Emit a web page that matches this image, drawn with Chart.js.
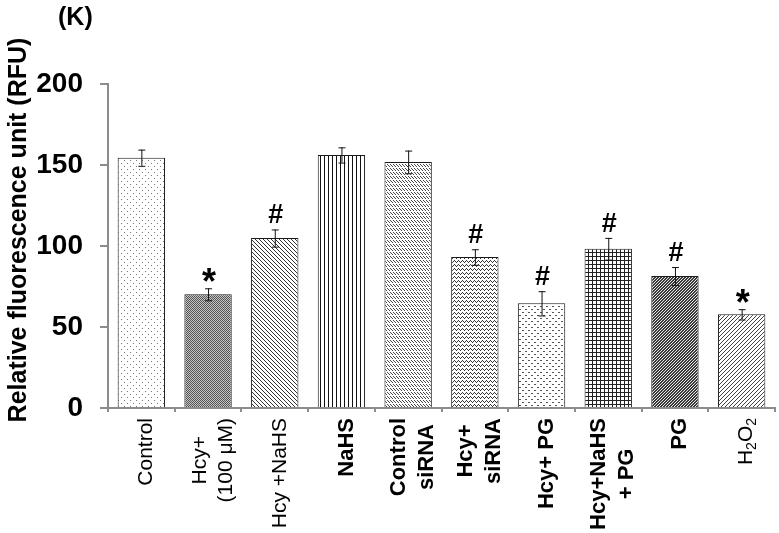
<!DOCTYPE html>
<html>
<head>
<meta charset="utf-8">
<script src="https://cdn.jsdelivr.net/npm/chart.js@4.4.0/dist/chart.umd.min.js"></script>
<style>
  html, body { margin: 0; padding: 0; background: #fff; }
</style>
</head>
<body>
<canvas id="ros" width="779" height="533"></canvas>
<script>
// treatment groups (x axis)
var groups = ['Control', ['Hcy+', '(100 μM)'], 'Hcy +NaHS', 'NaHS', ['Control', 'siRNA'],
              ['Hcy+', 'siRNA'], 'Hcy+ PG', ['Hcy+NaHS', '+ PG'], 'PG', 'H₂O₂'];
// relative fluorescence (RFU), mean and error
var rfu = [154.5, 70.2, 104.9, 156.2, 151.9, 93.2, 64.6, 98.3, 81.5, 57.8];
var rfuErr = [5, 3.7, 5.3, 4.7, 7, 4.8, 7.5, 6.7, 5.5, 3.2];
// significance marks
var signif = ['', '*', '#', '', '', '#', '#', '#', '#', '*'];
var yTicks = [0, 50, 100, 150, 200];

var boldLabel = [false, false, false, true, true, true, true, true, true, false];
var FONT = "'Liberation Sans', Arial, sans-serif";
var AXIS = '#8c8c8c';

// little tiles for the hatch fills
function tile(w, h, bg, draw) {
  var c = document.createElement('canvas');
  c.width = w; c.height = h;
  var g = c.getContext('2d');
  g.fillStyle = bg; g.fillRect(0, 0, w, h);
  draw(g);
  return g.createPattern(c, 'repeat');
}
function pts(list, color) {
  return function (g) {
    g.fillStyle = color;
    list.forEach(function (p) { g.fillRect(p[0], p[1], 1, 1); });
  };
}

var fills = [
  tile(6, 6, '#fff', pts([[1, 1], [4, 4]], '#777')),                       // dots
  tile(2, 2, '#c4c4c4', pts([[0, 0], [1, 1]], '#555')),                    // dark texture
  tile(4, 4, '#fff', pts([[0, 0], [1, 1], [2, 2], [3, 3]], '#333')),       // "\" lines
  tile(4, 1, '#fff', pts([[0, 0]], '#111')),                               // vertical
  tile(3, 4, '#fff', pts([[0, 0], [1, 1], [2, 2]], '#444')),               // small dashes
  tile(4, 4, '#fff', pts([[0, 2], [1, 1], [2, 0], [3, 1]], '#333')),       // zigzag
  tile(6, 6, '#fff', pts([[0, 0], [1, 0], [3, 3], [4, 3]], '#555')),       // sparse confetti
  tile(4, 4, '#fff', pts([[0, 0], [1, 0], [2, 0], [3, 0], [0, 1], [0, 2], [0, 3]], '#222')), // grid
  tile(3, 3, '#3a3a3a', pts([[0, 0], [1, 2], [2, 1]], '#e8e8e8')),         // dark checker
  tile(4, 4, '#fff', pts([[3, 0], [2, 1], [1, 2], [0, 3]], '#444'))        // "/" lines
];

// text with ₂ drawn as a small lowered 2
function richWidth(ctx, text, size, weight) {
  var total = 0;
  text.split(/(₂)/).filter(function (s) { return s; }).forEach(function (p) {
    ctx.font = weight + ' ' + (p === '₂' ? Math.round(size * 0.65) : size) + 'px ' + FONT;
    total += ctx.measureText(p === '₂' ? '2' : p).width;
  });
  return total;
}
function drawRich(ctx, text, y, size, weight) {
  var x = -richWidth(ctx, text, size, weight) / 2;
  ctx.textAlign = 'left';
  text.split(/(₂)/).filter(function (s) { return s; }).forEach(function (p) {
    var isSub = p === '₂';
    ctx.font = weight + ' ' + (isSub ? Math.round(size * 0.65) : size) + 'px ' + FONT;
    var t = isSub ? '2' : p;
    ctx.fillText(t, x, y + (isSub ? size * 0.28 : 0));
    x += ctx.measureText(t).width;
  });
}

var extras = {
  id: 'extras',
  afterDatasetsDraw: function (chart) {
    var ctx = chart.ctx, ys = chart.scales.y;
    var meta = chart.getDatasetMeta(0);
    ctx.save();
    ctx.strokeStyle = '#111';
    ctx.lineWidth = 1;
    rfu.forEach(function (v, i) {
      var x = meta.data[i].x;
      var top = ys.getPixelForValue(v + rfuErr[i]);
      var bot = ys.getPixelForValue(v - rfuErr[i]);
      ctx.beginPath();
      ctx.moveTo(x + 0.5, top); ctx.lineTo(x + 0.5, bot);
      ctx.moveTo(x - 3, top + 0.5); ctx.lineTo(x + 4, top + 0.5);
      ctx.moveTo(x - 3, bot + 0.5); ctx.lineTo(x + 4, bot + 0.5);
      ctx.stroke();

      var s = signif[i];
      if (s) {
        ctx.font = 'bold ' + (s === '*' ? 36 : 27) + 'px ' + FONT;
        ctx.fillStyle = '#000';
        ctx.textAlign = 'center';
        ctx.textBaseline = 'alphabetic';
        var m = ctx.measureText(s);
        ctx.fillText(s, x + 1, top - 6 - m.actualBoundingBoxDescent);
      }
    });
    ctx.restore();
  },
  afterDraw: function (chart) {
    var ctx = chart.ctx, xs = chart.scales.x;
    ctx.save();
    ctx.fillStyle = '#000';
    ctx.textBaseline = 'middle';
    groups.forEach(function (g, i) {
      var lines = Array.isArray(g) ? g : [g];
      var weight = boldLabel[i] ? 'bold' : 'normal';
      var size = boldLabel[i] ? 22 : 21;
      var lh = size * 1.27;
      // longest line starts just under the axis, the others centred on it
      var w = Math.max.apply(null, lines.map(function (ln) { return richWidth(ctx, ln, size, weight); }));
      ctx.save();
      ctx.translate(xs.getPixelForValue(i) + 5, 418 + w / 2);
      ctx.rotate(-Math.PI / 2);
      lines.forEach(function (ln, k) {
        drawRich(ctx, ln, (k - (lines.length - 1) / 2) * lh, size, weight);
      });
      ctx.restore();
    });

    // y axis title
    ctx.save();
    ctx.translate(19, 230);
    ctx.rotate(-Math.PI / 2);
    ctx.font = 'bold 25px ' + FONT;
    ctx.textAlign = 'center';
    ctx.fillText('Relative fluorescence unit (RFU)', 0, 0);
    ctx.restore();

    // panel letter
    ctx.font = 'bold 25px ' + FONT;
    ctx.textAlign = 'left';
    ctx.textBaseline = 'top';
    ctx.fillText('(K)', 58, 6);
    ctx.restore();
  }
};

var rosChart = new Chart(document.getElementById('ros').getContext('2d'), {
  type: 'bar',
  data: {
    labels: groups,
    datasets: [{
      data: rfu,
      backgroundColor: fills,
      borderColor: '#1a1a1a',
      borderWidth: 1,
      barPercentage: 0.71,
      categoryPercentage: 1
    }]
  },
  options: {
    responsive: false,
    animation: false,
    layout: { padding: { top: 84, right: 4, left: 0, bottom: 0 } },
    plugins: { legend: { display: false }, tooltip: { enabled: false } },
    scales: {
      x: {
        grid: { drawOnChartArea: false, drawTicks: true, tickLength: 4, color: AXIS, lineWidth: 2, offset: true },
        border: { color: AXIS, width: 2 },
        ticks: { display: false },
        afterFit: function (s) { s.height = 125; }
      },
      y: {
        min: 0,
        max: 200,
        afterBuildTicks: function (s) { s.ticks = yTicks.map(function (v) { return { value: v }; }); },
        grid: { drawOnChartArea: false, tickLength: 8, color: AXIS, lineWidth: 2 },
        border: { color: AXIS, width: 2 },
        ticks: { color: '#000', padding: 17, font: { family: FONT, size: 28, weight: 'bold' } },
        afterFit: function (s) { s.width = 108; }
      }
    }
  },
  plugins: [extras]
});
</script>
</body>
</html>
